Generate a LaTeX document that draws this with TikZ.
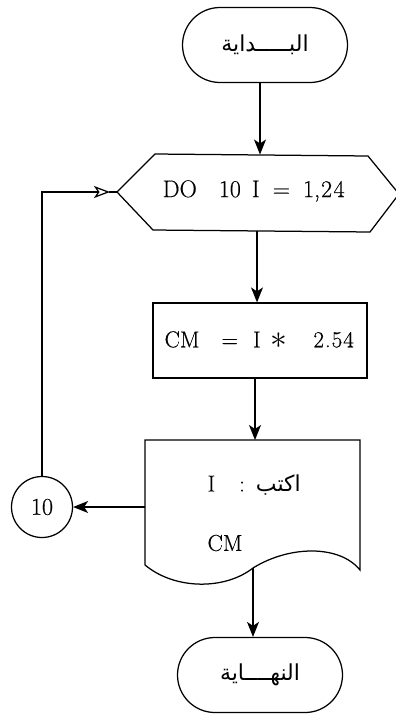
\documentclass[tikz,border=0pt]{standalone}
\usepackage{fontspec}
\setmainfont{Latin Modern Roman}[FakeBold=0.4]
\newfontfamily\arabicfont[Script=Arabic]{DejaVu Sans}
\TeXXeTstate=1
\usetikzlibrary{shapes.misc,arrows.meta}
\begin{document}
\begin{tikzpicture}[x=1pt,y=-1pt, line width=1.25pt,
  term/.style={draw, rounded rectangle, minimum width=165pt, minimum height=75pt, inner sep=0pt},
  arr/.style={-{Stealth[length=15pt,width=12pt,inset=4pt]}},
  oarr/.style={-{Stealth[open,length=16pt,width=12pt,inset=4pt]}},
  lbl/.style={font=\fontsize{23}{26}\selectfont, inner sep=0pt},
  ar/.style={font=\arabicfont\fontsize{22}{26}\selectfont}]
\useasboundingbox (0,0) rectangle (396,715);
% start
\node[term, ar] (start) at (265,45) {\beginR البـــــداية\endR};
% hexagon (loop)
\coordinate (hw) at (117,192);
\coordinate (hnw) at (155,154);
\coordinate (hne) at (368,156);
\coordinate (he) at (399,194);
\coordinate (hse) at (370,232);
\coordinate (hsw) at (153,230);
\draw (hw) -- (hnw) -- (hne) -- (he) -- (hse) -- (hsw) -- cycle;
\node[lbl, font=\fontsize{24}{26}\selectfont, anchor=west] (hex) at (162,191)
  {DO\hspace{22pt}10\hspace{11pt}I\hspace{13pt}=\hspace{13pt}1,\hspace{1pt}2\hspace{1.5pt}4};
\coordinate (htop) at (260,154.5);
\coordinate (hbot) at (257,230.5);
% process
\node[draw, lbl, minimum width=214pt, minimum height=75pt] (calc) at (260,340.5) {};
\node[lbl, anchor=west] (calctext) at (164,340)
  {CM\hspace{22pt}=\hspace{15pt}I\hspace{10pt}\raisebox{-1.5pt}{\scalebox{1.35}{$\ast$}}\hspace{26pt}2\hspace{1pt}.\hspace{1pt}5\hspace{1pt}4};
% document
\coordinate (dnw) at (145,440);
\coordinate (dne) at (360,440);
\coordinate (dse) at (360,570);
\coordinate (dbot) at (253,568);
\coordinate (dsw) at (145,565);
\coordinate (dleft) at (145,507);
\coordinate (dtop) at (255,440);
\draw (dsw) -- (dnw) -- (dne) -- (dse)
  .. controls (340,545) and (290,545) .. (dbot)
  .. controls (225,590) and (175,590) .. (dsw);
\node[lbl, anchor=west] (wr) at (207,485) {I\hspace{24pt}:\hspace{11pt}{\arabicfont\fontsize{22}{26}\selectfont\beginR اكتب\endR}};
\node[lbl] (cm) at (225,543) {CM};
% connector circle
\node[draw, circle, minimum size=61pt, inner sep=0pt, font=\fontsize{24}{26}\selectfont] (ten) at (42,507) {10};
% end
\node[term, ar] (end) at (260,675) {\beginR النهــــاية\endR};
% connectors
\draw[arr] (htop |- start.south) -- (htop);
\draw[arr] (hbot) -- (hbot |- calc.north);
\draw[arr] (dtop |- calc.south) -- (dtop);
\draw[arr] (dbot) -- (dbot |- end.north);
\draw[arr] (dleft) -- (ten.east);
\draw[oarr, shorten >=7pt] (ten.north) -- (ten.north |- hw) -- (hw);
\draw (hw) -- ([xshift=-8pt]hw);
\end{tikzpicture}
\end{document}
